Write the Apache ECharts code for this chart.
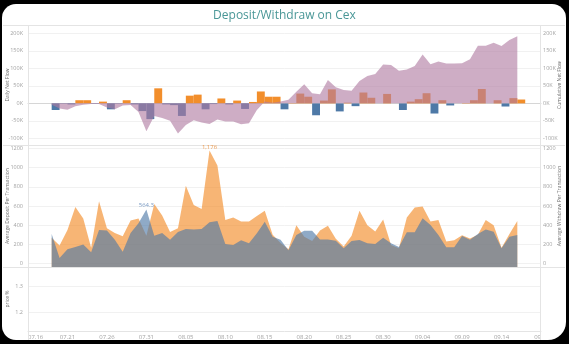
<!DOCTYPE html>
<html>
<head>
<meta charset="utf-8">
<script src="https://cdn.jsdelivr.net/npm/echarts@6/dist/echarts.min.js"></script>
<style>
  html, body { margin: 0; padding: 0; background: #000; }
  #chart { width: 569px; height: 344px; }
</style>
</head>
<body>
<div id="chart"></div>
<script>
// One value per day, starting on this date
const firstDay = [2023, 6, 19];

// Daily net flow (thousands)
const dailyNetFlow = [
  -19, -1, -3, 9, 9, -1, 5, -17, -1, 9,
  -3, -22, -45, 43, -3, -5, -36, 22, 25, -17,
  -2, 14, -3, 8, -16, 4, 34, 19, 19, -17,
  1, 28, 19, -34, 8, 40, -23, 2, -8, 31,
  16, 0, 27, 0, -19, 5, 12, 29, -29, 9,
  -6, 0, 1, 9, 41, 0, 9, -9, 15, 11
];

// Cumulative net flow (thousands)
const cumulativeNetFlow = [
  -4, -15, -18, -8, -4, -2, -2, -12, -17, -6,
  -5, -25, -80, -36, -42, -50, -86, -62, -48, -55,
  -59, -46, -52, -52, -60, -57, -19, 5, 2, 5,
  10, 33, 55, 29, 26, 67, 46, 38, 36, 64,
  78, 84, 111, 110, 93, 97, 107, 140, 112, 120,
  114, 114, 115, 126, 165, 165, 173, 164, 181, 192
];

// Average deposit per transaction
const avgDeposit = [
  270, 190, 350, 590, 470, 165, 650, 370, 320, 285,
  450, 470, 290, 620, 500, 330, 370, 810, 610, 570,
  1176, 1020, 455, 480, 440, 440, 495, 550, 300, 215,
  150, 400, 280, 235, 345, 395, 260, 180, 290, 550,
  400, 335, 460, 195, 160, 480, 585, 595, 440, 455,
  230, 245, 295, 262, 300, 455, 400, 165, 310, 445
];

// Average withdraw per transaction
const avgWithdraw = [
  310, 60, 150, 175, 200, 120, 350, 345, 250, 125,
  320, 420, 564.3, 290, 320, 250, 330, 360, 355, 360,
  430, 445, 205, 195, 245, 212, 316, 437, 281, 250,
  140, 298, 343, 343, 253, 253, 240, 160, 236, 246,
  212, 205, 270, 212, 175, 326, 326, 472, 402, 298,
  170, 170, 288, 250, 310, 357, 333, 160, 281, 298
];

// Axis ticks
const netFlowTicks = [-100, -50, 0, 50, 100, 150, 200];
const perTxTicks = [0, 200, 400, 600, 800, 1000, 1200];
const priceTicks = [1.2, 1.3];
const dateTicks = [
  [2023, 6, 16], [2023, 6, 21], [2023, 6, 26], [2023, 6, 31], [2023, 7, 5],
  [2023, 7, 10], [2023, 7, 15], [2023, 7, 20], [2023, 7, 25], [2023, 7, 30],
  [2023, 8, 4], [2023, 8, 9], [2023, 8, 14], [2023, 8, 19]
];
const dateTickLabels = [
  '07.16', '07.21', '07.26', '07.31', '08.05', '08.10', '08.15',
  '08.20', '08.25', '08.30', '09.04', '09.09', '09.14', '09'
];

const DAY = 86400000;
const utc = d => Date.UTC(d[0], d[1], d[2]);
const start = utc(firstDay);
const dayAt = i => start + i * DAY;
const tickTimes = dateTicks.map(utc);
const xMin = tickTimes[0];
const xMax = tickTimes[tickTimes.length - 1];

const ORANGE = '#f28e2b';
const BLUE = '#4e79a7';
const LABEL_GREY = '#a3a3a3';
const NAME_GREY = '#6e6e6e';
const FONT = 'Open Sans';
const SEP = '#e4e4e4';

// Date axis drawn as a numeric (millisecond) scale
function dateAxis(gridIndex, extra) {
  return Object.assign({
    type: 'value', gridIndex: gridIndex, min: xMin, max: xMax,
    axisLine: { show: false }, axisTick: { show: false },
    axisLabel: { show: false }, splitLine: { show: false }
  }, extra || {});
}

function valueAxis(gridIndex, pos, min, max, ticks, fmt, name, nameGap, withGrid) {
  return {
    type: 'value', gridIndex: gridIndex, position: pos, min: min, max: max,
    axisLine: { show: false },
    axisTick: { show: false, customValues: ticks },
    axisLabel: {
      customValues: ticks, formatter: fmt, fontSize: 5.5, color: LABEL_GREY,
      fontFamily: FONT, margin: pos === 'left' ? 5 : 2
    },
    splitLine: { show: withGrid, lineStyle: { color: '#f1f1f1', width: 1 } },
    name: name, nameLocation: 'middle', nameGap: nameGap, nameRotate: 90,
    nameMoveOverlap: false,
    nameTextStyle: { fontSize: 5, color: NAME_GREY, fontFamily: FONT }
  };
}

const kFmt = v => v + 'K';
const plainFmt = v => String(v);

const gridBase = { left: 28, width: 513, containLabel: false, outerBoundsMode: 'none' };

const option = {
  backgroundColor: '#000',
  animation: false,
  title: {
    text: 'Deposit/Withdraw on Cex', left: 'center', top: 5,
    textStyle: { fontSize: 12, fontWeight: 'normal', color: '#4a9797', fontFamily: FONT }
  },
  graphic: [
    { type: 'rect', z: -10, shape: { x: 2, y: 4, width: 564, height: 336, r: [14, 14, 18, 14] }, style: { fill: '#fff' } },
    { type: 'line', z: 1, shape: { x1: 3, y1: 25.5, x2: 565, y2: 25.5 }, style: { stroke: SEP, lineWidth: 1 } },
    { type: 'line', z: 1, shape: { x1: 3, y1: 145.5, x2: 565, y2: 145.5 }, style: { stroke: SEP, lineWidth: 1 } },
    { type: 'line', z: 1, shape: { x1: 3, y1: 267.5, x2: 565, y2: 267.5 }, style: { stroke: SEP, lineWidth: 1 } },
    { type: 'line', z: 1, shape: { x1: 28.5, y1: 25, x2: 28.5, y2: 340 }, style: { stroke: SEP, lineWidth: 1 } },
    { type: 'line', z: 1, shape: { x1: 540.5, y1: 25, x2: 540.5, y2: 340 }, style: { stroke: SEP, lineWidth: 1 } }
  ],
  grid: [
    Object.assign({ top: 25, height: 120 }, gridBase),
    Object.assign({ top: 145, height: 122 }, gridBase),
    Object.assign({ top: 267, height: 64 }, gridBase)
  ],
  xAxis: [
    dateAxis(0, { axisLine: { show: true, onZero: true, lineStyle: { color: '#d6d6d6', width: 1 } } }),
    dateAxis(1),
    dateAxis(2, {
      axisLine: { show: true, lineStyle: { color: SEP, width: 1 } },
      axisTick: { show: false, customValues: tickTimes },
      axisLabel: {
        show: true, customValues: tickTimes, fontSize: 6, color: LABEL_GREY, fontFamily: FONT,
        margin: 3, alignMinLabel: 'left', alignMaxLabel: 'right', hideOverlap: false,
        formatter: v => {
          const i = tickTimes.indexOf(v);
          return i >= 0 ? dateTickLabels[i] : '';
        }
      }
    })
  ],
  yAxis: [
    valueAxis(0, 'left', -119, 224, netFlowTicks, kFmt, 'Daily Net Flow', 18, true),
    valueAxis(0, 'right', -119, 224, netFlowTicks, kFmt, 'Cumulative Net Flow', 16, false),
    valueAxis(1, 'left', -34, 1234, perTxTicks, plainFmt, 'Average Deposit Per Transaction', 18, true),
    valueAxis(1, 'right', -34, 1234, perTxTicks, plainFmt, 'Average Withdraw Per Transaction', 16, false),
    valueAxis(2, 'left', 1.129, 1.372, priceTicks, plainFmt, 'price %', 18, true)
  ],
  series: [
    {
      name: 'Daily Net Flow', type: 'bar', xAxisIndex: 0, yAxisIndex: 0, z: 2,
      barWidth: 7.9,
      data: dailyNetFlow.map((v, i) => [dayAt(i) + DAY / 2, v]),
      itemStyle: { color: p => (p.value[1] >= 0 ? ORANGE : BLUE) }
    },
    {
      name: 'Cumulative Net Flow', type: 'line', xAxisIndex: 0, yAxisIndex: 1, z: 3,
      showSymbol: false, lineStyle: { width: 0 },
      areaStyle: { color: 'rgb(176,122,161)', opacity: 0.62 },
      data: cumulativeNetFlow.map((v, i) => [dayAt(i), v])
    },
    {
      name: 'Average Deposit Per Transaction', type: 'line', xAxisIndex: 1, yAxisIndex: 2, z: 2,
      showSymbol: false, lineStyle: { width: 0 },
      areaStyle: { color: 'rgb(242,142,43)', opacity: 0.65, origin: 'start' },
      data: avgDeposit.map((v, i) => [dayAt(i), v]),
      markPoint: {
        symbol: 'circle', symbolSize: 0,
        label: {
          show: true, position: 'top', distance: 0, fontSize: 6, color: '#ee9d52', fontFamily: FONT,
          formatter: p => p.value.toLocaleString('en-US')
        },
        data: [{ type: 'max', valueDim: 'y' }]
      }
    },
    {
      name: 'Average Withdraw Per Transaction', type: 'line', xAxisIndex: 1, yAxisIndex: 3, z: 3,
      showSymbol: false, lineStyle: { width: 0 },
      areaStyle: { color: 'rgb(78,121,167)', opacity: 0.63, origin: 'start' },
      data: avgWithdraw.map((v, i) => [dayAt(i), v]),
      markPoint: {
        symbol: 'circle', symbolSize: 0,
        label: {
          show: true, position: 'top', distance: 1, fontSize: 6, color: '#7b9cc4', fontFamily: FONT,
          formatter: p => p.value.toLocaleString('en-US')
        },
        data: [{ type: 'max', valueDim: 'y' }]
      }
    }
  ]
};

const chart = echarts.init(document.getElementById('chart'), null, { renderer: 'canvas' });
chart.setOption(option);
</script>
</body>
</html>
